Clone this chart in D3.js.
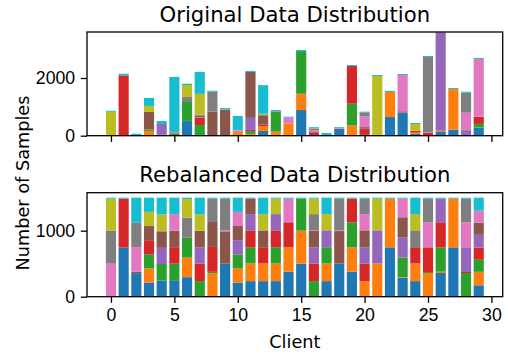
<!DOCTYPE html>
<html>
<head>
<meta charset="utf-8">
<script src="https://cdn.jsdelivr.net/npm/d3@7"></script>
<style>
  body { margin: 0; background: #fff; }
  svg { display: block; font-family: "DejaVu Sans", sans-serif; }
</style>
</head>
<body>
<div id="chart"></div>
<script>
// clients 0..29, ten classes stacked bottom to top
const clients = d3.range(30);
const classes = d3.range(10);
const classColors = ["#1f77b4", "#ff7f0e", "#2ca02c", "#d62728", "#9467bd",
                     "#8c564b", "#e377c2", "#7f7f7f", "#bcbd22", "#17becf"];

// samples per class, one row per client
const original = [
  [0, 0, 0, 0, 0, 0, 5, 15, 810, 35],
  [20, 0, 0, 2070, 0, 0, 0, 0, 0, 58],
  [5, 0, 0, 0, 0, 5, 5, 10, 0, 45],
  [5, 160, 45, 5, 0, 610, 0, 0, 208, 277],
  [0, 0, 0, 35, 370, 0, 0, 0, 0, 104],
  [5, 0, 76, 5, 0, 5, 41, 0, 0, 1906],
  [508, 5, 655, 0, 0, 0, 0, 173, 416, 46],
  [0, 0, 370, 254, 20, 58, 0, 20, 728, 763],
  [0, 5, 3, 5, 0, 820, 0, 693, 0, 35],
  [8, 0, 0, 0, 0, 890, 5, 8, 0, 50],
  [5, 135, 5, 0, 25, 5, 25, 0, 0, 483],
  [5, 58, 93, 46, 416, 1594, 0, 0, 0, 35],
  [162, 173, 0, 50, 0, 323, 0, 5, 46, 994],
  [5, 135, 680, 5, 25, 0, 0, 0, 5, 35],
  [5, 411, 0, 5, 0, 0, 205, 0, 0, 35],
  [889, 566, 1479, 0, 0, 0, 0, 0, 0, 35],
  [0, 0, 15, 80, 40, 20, 35, 60, 15, 30],
  [5, 5, 5, 0, 5, 0, 0, 0, 5, 70],
  [230, 0, 0, 0, 0, 10, 25, 10, 0, 25],
  [10, 347, 751, 1307, 0, 0, 0, 0, 0, 35],
  [0, 30, 0, 200, 10, 58, 370, 140, 0, 25],
  [0, 10, 0, 0, 10, 0, 0, 0, 2050, 35],
  [647, 867, 0, 0, 0, 0, 0, 0, 0, 35],
  [786, 5, 5, 0, 5, 46, 1256, 0, 0, 35],
  [69, 35, 0, 58, 0, 0, 0, 5, 240, 35],
  [0, 10, 5, 92, 0, 0, 10, 2610, 0, 35],
  [127, 35, 5, 5, 3410, 0, 0, 0, 0, 0],
  [208, 1409, 0, 0, 0, 0, 0, 0, 0, 35],
  [0, 0, 5, 10, 173, 30, 578, 693, 0, 35],
  [277, 5, 127, 243, 5, 5, 2000, 0, 0, 35]
];

const rebalanced = [
  [0, 0, 0, 0, 0, 0, 500, 500, 485, 15],
  [745, 0, 0, 740, 0, 0, 0, 0, 0, 15],
  [357, 0, 0, 0, 0, 20, 373, 375, 0, 375],
  [214, 214, 214, 214, 0, 214, 0, 0, 215, 215],
  [245, 0, 250, 0, 245, 245, 0, 10, 250, 255],
  [250, 0, 250, 250, 0, 250, 250, 0, 0, 250],
  [296, 296, 300, 0, 0, 0, 0, 306, 282, 20],
  [0, 0, 236, 267, 246, 246, 0, 5, 245, 255],
  [0, 357, 20, 377, 0, 377, 0, 354, 0, 15],
  [500, 0, 0, 0, 0, 490, 15, 480, 0, 15],
  [214, 214, 214, 0, 214, 214, 214, 0, 0, 216],
  [236, 267, 246, 256, 246, 234, 0, 0, 0, 15],
  [236, 267, 0, 246, 0, 246, 0, 10, 245, 250],
  [236, 267, 246, 256, 246, 0, 0, 0, 234, 15],
  [379, 369, 0, 379, 0, 0, 358, 0, 0, 15],
  [500, 500, 485, 0, 0, 0, 0, 0, 0, 15],
  [0, 0, 236, 267, 246, 246, 10, 246, 234, 15],
  [236, 267, 246, 0, 256, 0, 0, 0, 246, 249],
  [502, 0, 0, 0, 0, 492, 10, 481, 0, 15],
  [379, 369, 379, 358, 0, 0, 0, 0, 0, 15],
  [0, 236, 0, 267, 246, 256, 246, 234, 0, 15],
  [0, 502, 0, 0, 502, 0, 0, 0, 481, 15],
  [748, 737, 0, 0, 0, 0, 0, 0, 0, 15],
  [287, 10, 297, 0, 302, 307, 282, 0, 0, 15],
  [236, 267, 0, 246, 0, 0, 0, 256, 246, 249],
  [0, 359, 15, 374, 0, 0, 379, 358, 0, 15],
  [359, 20, 369, 379, 358, 0, 0, 0, 0, 15],
  [748, 737, 0, 0, 0, 0, 0, 0, 0, 15],
  [0, 0, 359, 15, 374, 0, 379, 358, 0, 15],
  [173, 204, 183, 183, 194, 183, 183, 0, 0, 197]
];

const xTicks = [0, 5, 10, 15, 20, 25, 30];
const topYTicks = [0, 2000];
const bottomYTicks = [0, 1000];

const width = 508, height = 354;
const left = 87, right = 502.7;
const labelSize = "17.7px", titleSize = "21.2px";

const svg = d3.select("#chart").append("svg")
  .attr("width", width)
  .attr("height", height);

const x = d3.scaleLinear().domain([-1.89, 30.89]).range([left, right]);
const barW = x(0.8) - x(0);

function panel(rows, yMax, top, bottom, yTicks, title, showXLabels) {
  const y = d3.scaleLinear().domain([0, yMax]).range([bottom, top]);
  const data = rows.map((r, i) => {
    const o = { client: clients[i] };
    classes.forEach(k => o[k] = r[k]);
    return o;
  });
  const series = d3.stack().keys(classes)(data);

  const g = svg.append("g");
  g.append("clipPath").attr("id", "clip" + Math.round(top))
    .append("rect").attr("x", left).attr("y", top).attr("width", right - left).attr("height", bottom - top);

  g.append("g").attr("clip-path", `url(#clip${Math.round(top)})`)
    .selectAll("g")
    .data(series)
    .join("g")
    .attr("fill", d => classColors[d.key])
    .selectAll("rect")
    .data(d => d)
    .join("rect")
    .attr("x", d => x(d.data.client) - barW / 2)
    .attr("width", barW)
    .attr("y", d => y(d[1]))
    .attr("height", d => Math.max(0, y(d[0]) - y(d[1])));

  const xAxis = d3.axisBottom(x).tickValues(xTicks).tickSize(6.2).tickPadding(5.6)
    .tickFormat(showXLabels ? d3.format("d") : () => "");
  const yAxis = d3.axisLeft(y).tickValues(yTicks).tickSize(6.2).tickPadding(5.6).tickFormat(d3.format("d"));

  const ax = g.append("g").attr("transform", `translate(0,${bottom})`).call(xAxis);
  const ay = g.append("g").attr("transform", `translate(${left},0)`).call(yAxis);
  [ax, ay].forEach(a => {
    a.select(".domain").remove();
    a.selectAll("line").attr("stroke", "#000").attr("stroke-width", 1.3);
    a.selectAll("text").attr("fill", "#000").style("font-size", labelSize);
  });

  g.append("rect")
    .attr("x", left).attr("y", top)
    .attr("width", right - left).attr("height", bottom - top)
    .attr("fill", "none").attr("stroke", "#000").attr("stroke-width", 1.3);

  g.append("text")
    .attr("x", (left + right) / 2).attr("y", top - 10.4)
    .attr("text-anchor", "middle")
    .style("font-size", titleSize)
    .text(title);
}

panel(original, 3595, 32, 135.7, topYTicks, "Original Data Distribution", false);
panel(rebalanced, 1575, 192.7, 296.7, bottomYTicks, "Rebalanced Data Distribution", true);

svg.append("text")
  .attr("x", (left + right) / 2).attr("y", 348)
  .attr("text-anchor", "middle")
  .style("font-size", labelSize)
  .text("Client");

svg.append("text")
  .attr("transform", "translate(29,183) rotate(-90)")
  .attr("text-anchor", "middle")
  .style("font-size", labelSize)
  .text("Number of Samples");
</script>
</body>
</html>
